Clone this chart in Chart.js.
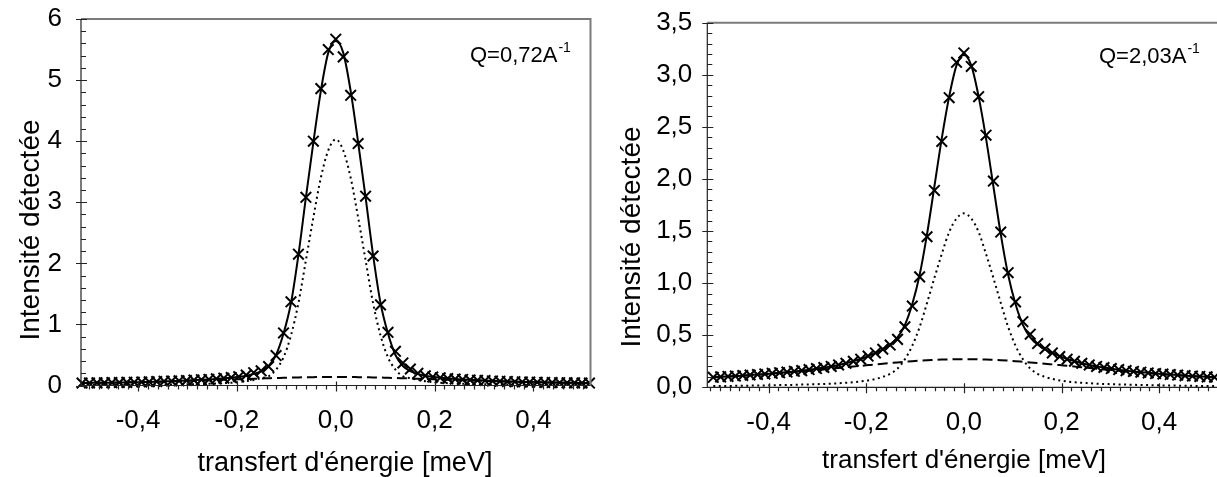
<!DOCTYPE html>
<html>
<head>
<meta charset="utf-8">
<script src="https://cdn.jsdelivr.net/npm/chart.js@4.4.1/dist/chart.umd.min.js"></script>
<style>
  html, body { margin: 0; padding: 0; background: #fff; overflow: hidden; width: 1217px; height: 477px; }
  canvas { position: absolute; top: 0; }
  #chartLeft { left: 0; }
  #chartRight { left: 610px; }
</style>
</head>
<body>
<canvas id="chartLeft" width="600" height="477"></canvas>
<canvas id="chartRight" width="620" height="477"></canvas>
<script>
// energy transfer channels [meV]
const energy = [-0.5134, -0.4983, -0.4832, -0.4681, -0.4530, -0.4379, -0.4228, -0.4077, -0.3926, -0.3775,
  -0.3624, -0.3473, -0.3322, -0.3171, -0.3020, -0.2869, -0.2718, -0.2567, -0.2416, -0.2265,
  -0.2114, -0.1963, -0.1812, -0.1661, -0.1510, -0.1359, -0.1208, -0.1057, -0.0906, -0.0755,
  -0.0604, -0.0453, -0.0302, -0.0151, 0, 0.0151, 0.0302, 0.0453, 0.0604, 0.0755,
  0.0906, 0.1057, 0.1208, 0.1359, 0.1510, 0.1661, 0.1812, 0.1963, 0.2114, 0.2265,
  0.2416, 0.2567, 0.2718, 0.2869, 0.3020, 0.3171, 0.3322, 0.3473, 0.3624, 0.3775,
  0.3926, 0.4077, 0.4228, 0.4379, 0.4530, 0.4681, 0.4832, 0.4983, 0.5134];

// Q = 0,72 A-1
const measLow = [0.040, 0.042, 0.043, 0.045, 0.047, 0.049, 0.051, 0.054, 0.057, 0.060,
  0.064, 0.068, 0.072, 0.077, 0.082, 0.088, 0.095, 0.100, 0.110, 0.120,
  0.130, 0.145, 0.170, 0.210, 0.240, 0.310, 0.490, 0.860, 1.370, 2.150,
  3.080, 4.000, 4.860, 5.500, 5.670, 5.380, 4.750, 3.960, 3.100, 2.120,
  1.320, 0.870, 0.560, 0.370, 0.270, 0.200, 0.160, 0.140, 0.125, 0.115,
  0.105, 0.100, 0.090, 0.085, 0.080, 0.075, 0.070, 0.066, 0.062, 0.059,
  0.056, 0.053, 0.050, 0.048, 0.046, 0.044, 0.043, 0.041, 0.040];
const fitLow = [0.041, 0.042, 0.044, 0.045, 0.047, 0.049, 0.051, 0.053, 0.056, 0.059,
  0.063, 0.067, 0.071, 0.076, 0.081, 0.087, 0.093, 0.100, 0.108, 0.117,
  0.128, 0.142, 0.160, 0.190, 0.235, 0.320, 0.500, 0.850, 1.350, 2.140,
  3.080, 3.980, 4.820, 5.450, 5.640, 5.450, 4.820, 3.980, 3.080, 2.140,
  1.350, 0.850, 0.500, 0.320, 0.235, 0.190, 0.160, 0.142, 0.128, 0.117,
  0.108, 0.100, 0.093, 0.087, 0.081, 0.076, 0.071, 0.067, 0.063, 0.059,
  0.056, 0.053, 0.051, 0.049, 0.047, 0.045, 0.044, 0.042, 0.041];
const elasticLow = [0.008, 0.008, 0.009, 0.009, 0.010, 0.010, 0.011, 0.011, 0.012, 0.013,
  0.014, 0.015, 0.017, 0.018, 0.020, 0.022, 0.025, 0.028, 0.032, 0.038,
  0.045, 0.055, 0.070, 0.090, 0.120, 0.150, 0.260, 0.460, 0.820, 1.350,
  2.050, 2.750, 3.400, 3.850, 4.030, 3.850, 3.400, 2.750, 2.050, 1.350,
  0.820, 0.460, 0.260, 0.150, 0.120, 0.090, 0.070, 0.055, 0.045, 0.038,
  0.032, 0.028, 0.025, 0.022, 0.020, 0.018, 0.017, 0.015, 0.014, 0.013,
  0.012, 0.011, 0.011, 0.010, 0.010, 0.009, 0.009, 0.008, 0.008];
const quasiLow = [0.039, 0.041, 0.043, 0.045, 0.047, 0.049, 0.051, 0.053, 0.056, 0.059,
  0.061, 0.064, 0.067, 0.071, 0.074, 0.078, 0.081, 0.085, 0.089, 0.093,
  0.098, 0.102, 0.106, 0.110, 0.115, 0.119, 0.123, 0.126, 0.130, 0.133,
  0.135, 0.137, 0.139, 0.140, 0.140, 0.140, 0.139, 0.137, 0.135, 0.133,
  0.130, 0.126, 0.123, 0.119, 0.115, 0.110, 0.106, 0.102, 0.098, 0.093,
  0.089, 0.085, 0.081, 0.078, 0.074, 0.071, 0.067, 0.064, 0.061, 0.059,
  0.056, 0.053, 0.051, 0.049, 0.047, 0.045, 0.043, 0.041, 0.039];

// Q = 2,03 A-1
const measHigh = [0.096, 0.100, 0.104, 0.108, 0.113, 0.118, 0.123, 0.128, 0.134, 0.140,
  0.146, 0.153, 0.160, 0.170, 0.180, 0.190, 0.200, 0.215, 0.230, 0.250,
  0.270, 0.300, 0.330, 0.365, 0.405, 0.460, 0.580, 0.780, 1.060, 1.445,
  1.890, 2.360, 2.780, 3.120, 3.210, 3.080, 2.790, 2.420, 1.980, 1.490,
  1.100, 0.820, 0.630, 0.510, 0.420, 0.370, 0.330, 0.295, 0.270, 0.250,
  0.230, 0.215, 0.200, 0.190, 0.180, 0.170, 0.160, 0.152, 0.145, 0.138,
  0.132, 0.127, 0.122, 0.117, 0.112, 0.108, 0.104, 0.100, 0.097];
const fitHigh = [0.097, 0.100, 0.104, 0.108, 0.112, 0.117, 0.122, 0.127, 0.133, 0.139,
  0.145, 0.152, 0.160, 0.169, 0.179, 0.190, 0.200, 0.215, 0.230, 0.250,
  0.272, 0.300, 0.330, 0.365, 0.410, 0.480, 0.600, 0.800, 1.080, 1.470,
  1.930, 2.390, 2.790, 3.090, 3.190, 3.090, 2.790, 2.390, 1.930, 1.470,
  1.080, 0.800, 0.600, 0.480, 0.410, 0.365, 0.330, 0.300, 0.272, 0.250,
  0.230, 0.215, 0.200, 0.190, 0.179, 0.169, 0.160, 0.152, 0.145, 0.139,
  0.133, 0.127, 0.122, 0.117, 0.112, 0.108, 0.104, 0.100, 0.097];
const elasticHigh = [0.012, 0.012, 0.013, 0.014, 0.015, 0.016, 0.017, 0.018, 0.020, 0.021,
  0.022, 0.024, 0.026, 0.028, 0.030, 0.032, 0.035, 0.039, 0.043, 0.049,
  0.056, 0.066, 0.080, 0.100, 0.130, 0.180, 0.270, 0.400, 0.580, 0.810,
  1.050, 1.280, 1.490, 1.620, 1.670, 1.620, 1.490, 1.280, 1.050, 0.810,
  0.580, 0.400, 0.270, 0.180, 0.130, 0.100, 0.080, 0.066, 0.056, 0.049,
  0.043, 0.039, 0.035, 0.032, 0.030, 0.028, 0.026, 0.024, 0.022, 0.021,
  0.020, 0.018, 0.017, 0.016, 0.015, 0.014, 0.013, 0.012, 0.012];
const quasiHigh = [0.096, 0.099, 0.103, 0.107, 0.112, 0.116, 0.121, 0.126, 0.131, 0.136,
  0.141, 0.147, 0.153, 0.159, 0.166, 0.172, 0.179, 0.185, 0.192, 0.199,
  0.206, 0.213, 0.220, 0.227, 0.233, 0.239, 0.245, 0.251, 0.256, 0.260,
  0.263, 0.266, 0.268, 0.270, 0.270, 0.270, 0.268, 0.266, 0.263, 0.260,
  0.256, 0.251, 0.245, 0.239, 0.233, 0.227, 0.220, 0.213, 0.206, 0.199,
  0.192, 0.185, 0.179, 0.172, 0.166, 0.159, 0.153, 0.147, 0.141, 0.136,
  0.131, 0.126, 0.121, 0.116, 0.112, 0.107, 0.103, 0.099, 0.096];

// tick labels
const xMajor = [-0.4, -0.2, 0, 0.2, 0.4];
const yMajorLow = [0, 1, 2, 3, 4, 5, 6];
const yMajorHigh = [0, 0.5, 1, 1.5, 2, 2.5, 3, 3.5];

const FONT = "'Liberation Sans', Arial, sans-serif";
const pts = arr => energy.map((e, i) => ({ x: e, y: arr[i] }));
const comma = (v, d) => (Math.abs(v) < 1e-9 ? 0 : v).toFixed(d).replace('.', ',');

// axes frame, minor ticks and texts
const frame = {
  id: 'frame',
  afterDraw(chart, args, o) {
    const { ctx, chartArea: a, scales: { x, y } } = chart;
    ctx.save();
    ctx.strokeStyle = '#7b7b7b';
    ctx.lineWidth = 2;
    ctx.beginPath();
    ctx.moveTo(a.left, a.top); ctx.lineTo(a.right, a.top); ctx.lineTo(a.right, a.bottom);
    ctx.stroke();

    ctx.strokeStyle = '#222';
    ctx.lineWidth = 1.2;
    ctx.beginPath();
    ctx.moveTo(a.left, a.top); ctx.lineTo(a.left, a.bottom); ctx.lineTo(a.right, a.bottom);
    // x ticks
    for (let k = Math.ceil(x.min / 0.02 - 1e-9); k <= Math.floor(x.max / 0.02 + 1e-9); k++) {
      const px = Math.round(x.getPixelForValue(k * 0.02)) + 0.5;
      const major = k % 10 === 0;
      ctx.moveTo(px, a.bottom - (major ? 4 : 0));
      ctx.lineTo(px, a.bottom + (major ? 6 : 4));
    }
    // y ticks
    for (let k = 0; k * o.yMinor <= y.max + 1e-9; k++) {
      const py = Math.round(y.getPixelForValue(k * o.yMinor)) + 0.5;
      const major = k % 5 === 0;
      ctx.moveTo(a.left - (major ? 5 : 0), py);
      ctx.lineTo(a.left + (major ? 6 : 5), py);
    }
    ctx.stroke();

    ctx.fillStyle = '#000';
    ctx.textBaseline = 'alphabetic';
    ctx.textAlign = 'center';
    ctx.font = o.xTitleSize + 'px ' + FONT;
    ctx.fillText("transfert d'énergie [meV]", o.xTitle[0], o.xTitle[1]);
    ctx.save();
    ctx.translate(o.yTitle[0], o.yTitle[1]);
    ctx.rotate(-Math.PI / 2);
    ctx.textBaseline = 'middle';
    ctx.font = '28px ' + FONT;
    ctx.fillText('Intensité détectée', 0, 0);
    ctx.restore();

    ctx.textAlign = 'left';
    ctx.font = '22px ' + FONT;
    ctx.fillText(o.q, o.qPos[0], o.qPos[1]);
    const w = ctx.measureText(o.q).width;
    ctx.font = '14px ' + FONT;
    ctx.fillText('-1', o.qPos[0] + w + 1, o.qPos[1] - 10);
    ctx.restore();
  }
};

function makeChart(id, cfg) {
  new Chart(document.getElementById(id), {
    type: 'line',
    data: {
      datasets: [
        { data: pts(cfg.meas), showLine: false, pointStyle: 'crossRot', pointRadius: 7.5,
          pointBorderWidth: 2, pointBorderColor: '#000', borderColor: '#000', clip: 8 },
        { data: pts(cfg.fit), borderColor: '#000', borderWidth: 2, pointRadius: 0,
          cubicInterpolationMode: 'monotone' },
        { data: pts(cfg.elastic), borderColor: '#000', borderWidth: 2, borderDash: [2, 3.5],
          pointRadius: 0, cubicInterpolationMode: 'monotone' },
        { data: pts(cfg.quasi), borderColor: '#000', borderWidth: 2, borderDash: [10, 5],
          pointRadius: 0, cubicInterpolationMode: 'monotone' }
      ]
    },
    options: {
      responsive: false,
      animation: false,
      events: [],
      layout: { padding: { top: cfg.top, right: cfg.right, left: 0, bottom: 0 } },
      plugins: {
        legend: { display: false },
        tooltip: { enabled: false },
        frame: cfg.frame
      },
      scales: {
        x: {
          type: 'linear', min: -cfg.xLim, max: cfg.xLim,
          afterBuildTicks: s => { s.ticks = xMajor.map(v => ({ value: v })); },
          afterFit: s => { s.height = cfg.xHeight; s.paddingLeft = 0; s.paddingRight = 0; },
          grid: { display: false, drawTicks: false },
          border: { display: false },
          ticks: { autoSkip: false, maxRotation: 0, padding: 20, color: '#000',
            font: { family: FONT, size: 26 }, callback: v => comma(v, 1) }
        },
        y: {
          min: 0, max: cfg.yMax,
          afterBuildTicks: s => { s.ticks = cfg.yTicks.map(v => ({ value: v })); },
          afterFit: s => { s.width = cfg.yWidth; s.paddingTop = 0; s.paddingBottom = 0; },
          grid: { display: false, drawTicks: false },
          border: { display: false },
          ticks: { autoSkip: false, padding: cfg.yPad, color: '#000',
            font: { family: FONT, size: 26 }, callback: v => comma(v, cfg.yDec) }
        }
      }
    },
    plugins: [frame]
  });
}

makeChart('chartLeft', {
  meas: measLow, fit: fitLow, elastic: elasticLow, quasi: quasiLow,
  xLim: 0.5155, yMax: 6, yTicks: yMajorLow, yDec: 0,
  top: 19, right: 7.3, yWidth: 81, xHeight: 91.5, yPad: 19,
  frame: { yMinor: 0.2, q: 'Q=0,72A', qPos: [470, 62], xTitle: [345, 471], xTitleSize: 27, yTitle: [31, 230] }
});

makeChart('chartRight', {
  meas: measHigh, fit: fitHigh, elastic: elasticHigh, quasi: quasiHigh,
  xLim: 0.5256, yMax: 3.5, yTicks: yMajorHigh, yDec: 1,
  top: 22.7, right: 8.7, yWidth: 97.3, xHeight: 89.7, yPad: 15,
  frame: { yMinor: 0.1, q: 'Q=2,03A', qPos: [489, 63], xTitle: [354, 468], xTitleSize: 26, yTitle: [22, 237] }
});
</script>
</body>
</html>
